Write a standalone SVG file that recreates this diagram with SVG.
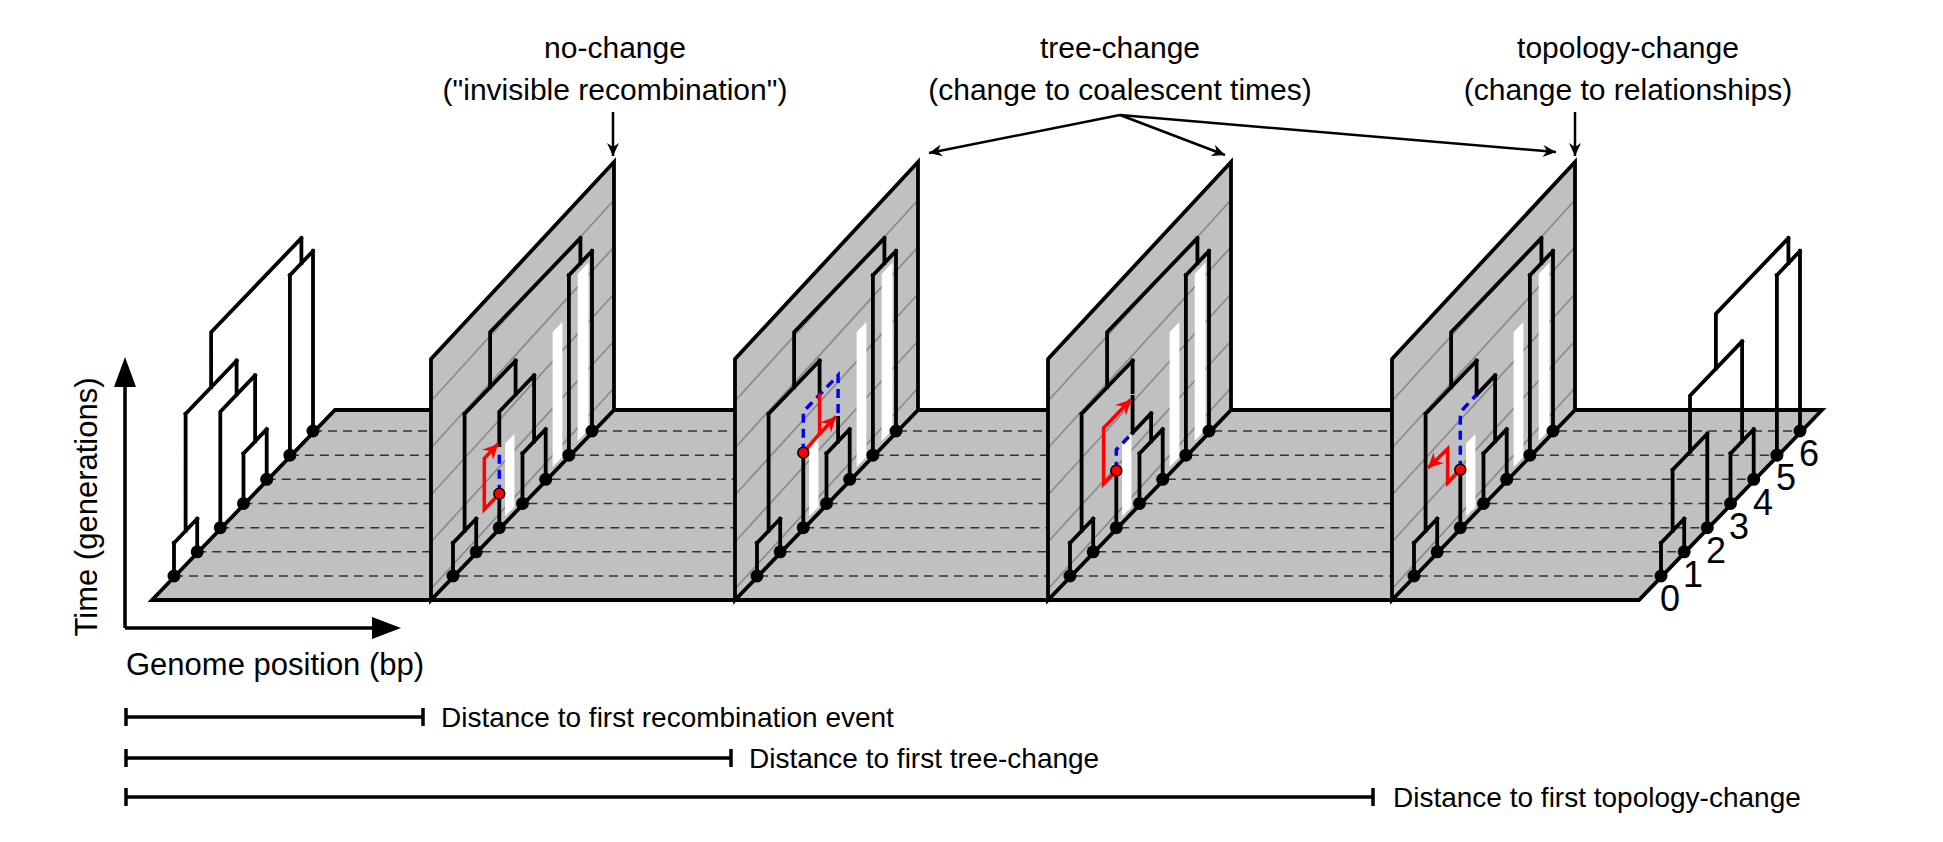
<svg xmlns="http://www.w3.org/2000/svg" width="1943" height="842" viewBox="0 0 1943 842">
<style>
text{font-family:"Liberation Sans",Arial,sans-serif;fill:#000}
.tr{fill:none;stroke:#000;stroke-width:3.8;stroke-linecap:square;stroke-linejoin:miter}
.pn{fill:#c0c0c0;stroke:none}
.po{fill:none;stroke:#000;stroke-width:3.8;stroke-linejoin:miter}
.ht{fill:none;stroke:#8c8c8c;stroke-width:1.8}
.bar{fill:#fff}
.red{fill:none;stroke:#f00;stroke-width:3.5;stroke-linejoin:miter}
.blue{fill:none;stroke:#00f;stroke-width:3.5;stroke-dasharray:9,6}
.dash{fill:none;stroke:#333;stroke-width:1.6;stroke-dasharray:9,6}
.rd{fill:#f00;stroke:#000;stroke-width:1.5}
.ar{fill:none;stroke:#000;stroke-width:2.5}
.bl{fill:none;stroke:#000;stroke-width:3.5}
.lab{font-size:30px;text-anchor:middle}
.dl{font-size:28px}
.num{font-size:36px;text-anchor:middle}
</style>
<defs>
<clipPath id="pc"><polygon points="0,600 0,359 183,162 183,410"/></clipPath>
<marker id="ra" markerUnits="userSpaceOnUse" viewBox="-16 -9 18 18" markerWidth="18" markerHeight="18" refX="0" refY="0" orient="auto"><path d="M0,0L-15,-7.5L-10,0L-15,7.5Z" fill="#f00"/></marker>
<marker id="ka" markerUnits="userSpaceOnUse" viewBox="-14 -7 16 14" markerWidth="16" markerHeight="14" refX="0" refY="0" orient="auto"><path d="M0,0L-13,-6L-9,0L-13,6Z" fill="#000"/></marker>
<g id="dots">
<circle cx="0" cy="576" r="6.5"/><circle cx="23.2" cy="551.8" r="6.5"/><circle cx="46.3" cy="527.7" r="6.5"/><circle cx="69.5" cy="503.5" r="6.5"/><circle cx="92.7" cy="479.3" r="6.5"/><circle cx="115.9" cy="455.2" r="6.5"/><circle cx="139" cy="431" r="6.5"/>
</g>
<g id="bars">
<polygon class="bar" points="52.1,516.6 61.4,507 61.4,434 52.1,443.6"/>
<polygon class="bar" points="99.6,467.1 109.4,456.9 109.4,321.9 99.6,332.1"/>
<polygon class="bar" points="124.7,441 135.5,429.6 135.5,262.6 124.7,274"/>
</g>
<path id="base" class="tr" d="M0,576V543 M23.2,551.8V518.8 M0,543L23.2,518.8 M11.6,530.9V413.9 M11.6,413.9L62.6,360.7 M37.1,387.3V332.3L127.4,238.1 M115.9,455.2V275.2 M139,431V251 M115.9,275.2L139,251 M127.4,263.1V238.1 M69.5,503.5V453.5 M92.7,479.3V429.3 M69.5,453.5L92.7,429.3"/>
<g id="panelbg">
<polygon class="pn" points="0,600 0,359 183,162 183,410"/>
<g clip-path="url(#pc)"><path class="ht" d="M0,589L183,388 M0,542L183,341 M0,495L183,294 M0,448L183,247 M0,401L183,200"/></g>
</g>
</defs>

<g id="floor">
<polygon points="152,600 1639,600 1822,410 335,410" fill="#c0c0c0" stroke="#000" stroke-width="3.8"/>
<path class="dash" d="M174,576H1661 M197.2,551.8H1684.2 M220.3,527.7H1707.3 M243.5,503.5H1730.5 M266.7,479.3H1753.7 M289.9,455.2H1776.9 M313,431H1800"/>
</g>

<g id="axes">
<path class="bl" d="M125,628V380 M125,628H380"/>
<polygon points="125,357 114,387 136,387"/>
<polygon points="401,628 372,617 372,639"/>
<text x="0" y="0" font-size="31" text-anchor="middle" transform="translate(97,507) rotate(-90)">Time (generations)</text>
<text x="126" y="675" font-size="31">Genome position (bp)</text>
</g>

<g id="tree0" transform="translate(174,0)">
<use href="#base"/>
<path class="tr" d="M46.3,527.7V411.7L81.1,375.4 M81.1,441.4V375.4 M62.6,394.7V360.7"/>
<use href="#dots"/>
</g>

<g id="panel1" transform="translate(431,0)">
<use href="#panelbg"/>
<g transform="translate(22,0)"><use href="#bars"/></g>
<polygon class="po" points="0,600 0,359 183,162 183,410"/>
<g transform="translate(22,0)">
<use href="#base"/>
<path class="tr" d="M46.3,527.7V493.7 M46.3,445V411.7L81.1,375.4 M81.1,441.4V375.4 M62.6,394.7V360.7"/>
<path class="blue" d="M46.3,493.7V449"/>
<path class="red" d="M46.3,493.7L31.3,509.4V458.4L45,444" marker-end="url(#ra)"/>
<use href="#dots"/>
<circle class="rd" cx="46.3" cy="493.7" r="5.5"/>
</g>
</g>

<g id="panel2" transform="translate(735,0)">
<use href="#panelbg"/>
<g transform="translate(22,0)"><use href="#bars"/></g>
<polygon class="po" points="0,600 0,359 183,162 183,410"/>
<g transform="translate(22,0)">
<use href="#base"/>
<path class="tr" d="M46.3,527.7V452.7 M62.6,393.7V360.7 M81.1,441.4V418"/>
<path class="blue" d="M46.3,452.7V411.7L81.1,375.4V414"/>
<path class="red" d="M46.3,452.7L62.6,433.7V393.7"/>
<path class="red" d="M62.6,433.7L79,416.5" marker-end="url(#ra)"/>
<use href="#dots"/>
<circle class="rd" cx="46.3" cy="452.7" r="5.5"/>
</g>
</g>

<g id="panel3" transform="translate(1048,0)">
<use href="#panelbg"/>
<g transform="translate(22,0)"><use href="#bars"/></g>
<polygon class="po" points="0,600 0,359 183,162 183,410"/>
<g transform="translate(22,0)">
<use href="#base"/>
<path class="tr" d="M46.3,527.7V470.7 M62.6,432.7L81.1,413.4 M81.1,441.4V413.4 M62.6,432.7V397 M62.6,392V360.7"/>
<path class="blue" d="M46.3,470.7V449.7L62.6,432.7"/>
<path class="red" d="M46.3,470.7L33.6,484V428L61,399.5" marker-end="url(#ra)"/>
<use href="#dots"/>
<circle class="rd" cx="46.3" cy="470.7" r="5.5"/>
</g>
</g>

<g id="panel4" transform="translate(1392,0)">
<use href="#panelbg"/>
<g transform="translate(22,0)"><use href="#bars"/></g>
<polygon class="po" points="0,600 0,359 183,162 183,410"/>
<g transform="translate(22,0)">
<use href="#base"/>
<path class="tr" d="M46.3,527.7V469.7 M62.6,394.7L81.1,375.4 M81.1,441.4V375.4 M62.6,394.7V360.7"/>
<path class="blue" d="M46.3,469.7V417Q46.3,411.7 51,407L62.6,394.7"/>
<path class="red" d="M46.3,469.7L33.6,483V449L14,468" marker-end="url(#ra)"/>
<use href="#dots"/>
<circle class="rd" cx="46.3" cy="469.7" r="5.5"/>
</g>
</g>

<g id="tree-right" transform="translate(1661,0)">
<path class="tr" d="M0,576V543 M23.2,551.8V518.8 M0,543L23.2,518.8 M11.6,530.9V469.9 M46.3,527.7V433.7 M11.6,469.9L46.3,433.7 M29,451.8V395.8L81.1,341.4 M69.5,503.5V453.5 M92.7,479.3V429.3 M69.5,453.5L92.7,429.3 M81.1,441.4V341.4 M54.9,368.7V313.7L127.4,238.1 M115.9,455.2V275.2 M139,431V251 M115.9,275.2L139,251 M127.4,263.1V238.1"/>
<use href="#dots"/>
<text class="num" x="9" y="611">0</text>
<text class="num" x="32" y="587">1</text>
<text class="num" x="55" y="563">2</text>
<text class="num" x="78" y="539">3</text>
<text class="num" x="102" y="515">4</text>
<text class="num" x="125" y="490">5</text>
<text class="num" x="148" y="466">6</text>
</g>

<g id="labels">
<text class="lab" x="615" y="58">no-change</text>
<text class="lab" x="615" y="100">("invisible recombination")</text>
<text class="lab" x="1120" y="58">tree-change</text>
<text class="lab" x="1120" y="100">(change to coalescent times)</text>
<text class="lab" x="1628" y="58">topology-change</text>
<text class="lab" x="1628" y="100">(change to relationships)</text>
</g>

<g id="connectors">
<path class="ar" d="M613,112V156" marker-end="url(#ka)"/>
<path class="ar" d="M1575,112V156" marker-end="url(#ka)"/>
<path class="ar" d="M1120,115L929,153" marker-end="url(#ka)"/>
<path class="ar" d="M1120,115L1225,155" marker-end="url(#ka)"/>
<path class="ar" d="M1120,115L1556,152" marker-end="url(#ka)"/>
</g>

<g id="distances">
<path class="bl" d="M126,717H423 M126,708V726 M423,708V726"/>
<text class="dl" x="441" y="727">Distance to first recombination event</text>
<path class="bl" d="M126,758H731 M126,749V767 M731,749V767"/>
<text class="dl" x="749" y="768">Distance to first tree-change</text>
<path class="bl" d="M126,797H1373 M126,788V806 M1373,788V806"/>
<text class="dl" x="1393" y="807">Distance to first topology-change</text>
</g>
</svg>
